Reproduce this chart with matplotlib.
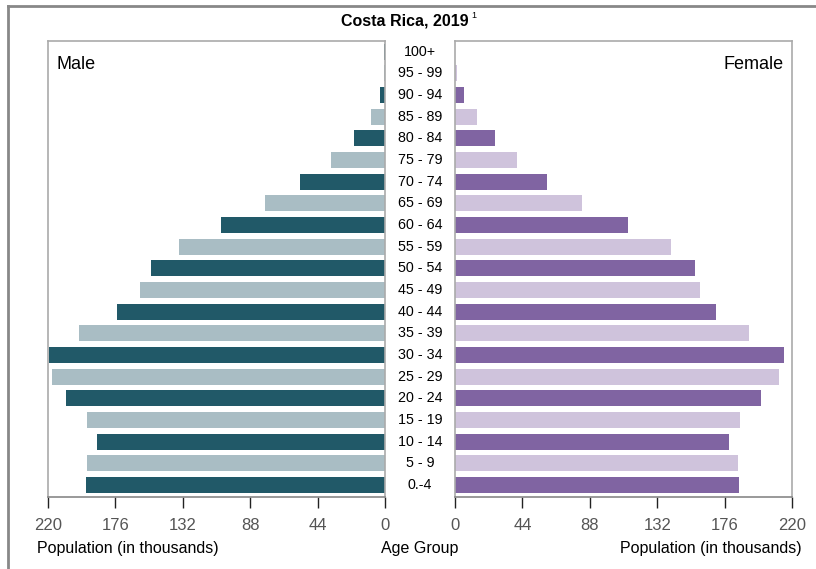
import matplotlib
matplotlib.use("Agg")
import matplotlib.pyplot as plt
import matplotlib.transforms as mtransforms
from matplotlib.lines import Line2D

plt.rcParams['font.family'] = ['Liberation Sans Narrow', 'Liberation Sans', 'DejaVu Sans']
plt.rcParams['mathtext.default'] = 'regular'

# Age groups, bottom to top
age_groups = ['0.-4', '5 - 9', '10 - 14', '15 - 19', '20 - 24', '25 - 29', '30 - 34',
              '35 - 39', '40 - 44', '45 - 49', '50 - 54', '55 - 59', '60 - 64',
              '65 - 69', '70 - 74', '75 - 79', '80 - 84', '85 - 89', '90 - 94',
              '95 - 99', '100+']

# Population in thousands
male = [194.9, 194.3, 187.7, 194.3, 208.0, 217.7, 219.5, 199.5, 174.7, 159.7, 152.5,
        134.3, 106.9, 78.2, 55.4, 35.2, 20.2, 9.1, 3.3, 0.4, 0.65]
female = [185.4, 184.7, 178.8, 186.0, 199.7, 211.4, 214.6, 191.8, 170.3, 159.9, 156.6,
          141.0, 112.9, 82.8, 60.0, 40.4, 26.1, 14.3, 5.9, 1.0, 0.3]

ticks = [0, 44, 88, 132, 176, 220]

male_colors = ['#215968', '#A9BDC4']
female_colors = ['#8064A2', '#CFC3DC']

fig = plt.figure(figsize=(8.16, 5.69), dpi=100)

ax_m = fig.add_axes([48 / 816, 1 - 497 / 569, 337 / 816, 456 / 569])
ax_f = fig.add_axes([455 / 816, 1 - 497 / 569, 337 / 816, 456 / 569])

y = list(range(len(age_groups)))
mc = [male_colors[i % 2] for i in y]
fc = [female_colors[i % 2] for i in y]

ax_m.barh(y, male, height=0.74, color=mc)
ax_f.barh(y, female, height=0.74, color=fc)

ax_m.set_xlim(220, 0)
ax_f.set_xlim(0, 220)

for ax in (ax_m, ax_f):
    ax.set_ylim(-0.55, 20.49)
    ax.set_yticks([])
    ax.set_xticks(ticks)
    ax.tick_params(axis='x', direction='out', length=8, width=1, color='#222222',
                   labelsize=12, labelcolor='#555555', pad=7)
    for s in ax.spines.values():
        s.set_color('#aaaaaa')
        s.set_linewidth(1.2)
    ax.spines['bottom'].set_color('#888888')

ax_m.text(0.025, 0.968, 'Male', transform=ax_m.transAxes, ha='left', va='top', fontsize=13)
ax_f.text(0.975, 0.968, 'Female', transform=ax_f.transAxes, ha='right', va='top', fontsize=13)

# Age group labels in the middle gap
tr = mtransforms.blended_transform_factory(fig.transFigure, ax_m.transData)
for i, lab in enumerate(age_groups):
    fig.text(420 / 816, i, lab, transform=tr, ha='center', va='center', fontsize=10.3)

fig.text(405 / 816, 1 - 21 / 569, 'Costa Rica, 2019', ha='center', va='center',
         fontsize=11.5, fontweight='bold')
fig.text(471 / 816, 1 - 16 / 569, '1', ha='left', va='center', fontsize=6.5)

fig.text(128 / 816, 1 - 549 / 569, 'Population (in thousands)', ha='center', va='center', fontsize=11.5)
fig.text(420 / 816, 1 - 549 / 569, 'Age Group', ha='center', va='center', fontsize=11.5)
fig.text(711 / 816, 1 - 549 / 569, 'Population (in thousands)', ha='center', va='center', fontsize=11.5)

# outer frame (top and left edges)
fig.add_artist(Line2D([8 / 816, 8 / 816], [0, 1 - 6 / 569], transform=fig.transFigure,
                      color='#888888', linewidth=2))
fig.add_artist(Line2D([8 / 816, 1], [1 - 6 / 569, 1 - 6 / 569], transform=fig.transFigure,
                      color='#888888', linewidth=2))

fig.savefig('out.png', dpi=100)
